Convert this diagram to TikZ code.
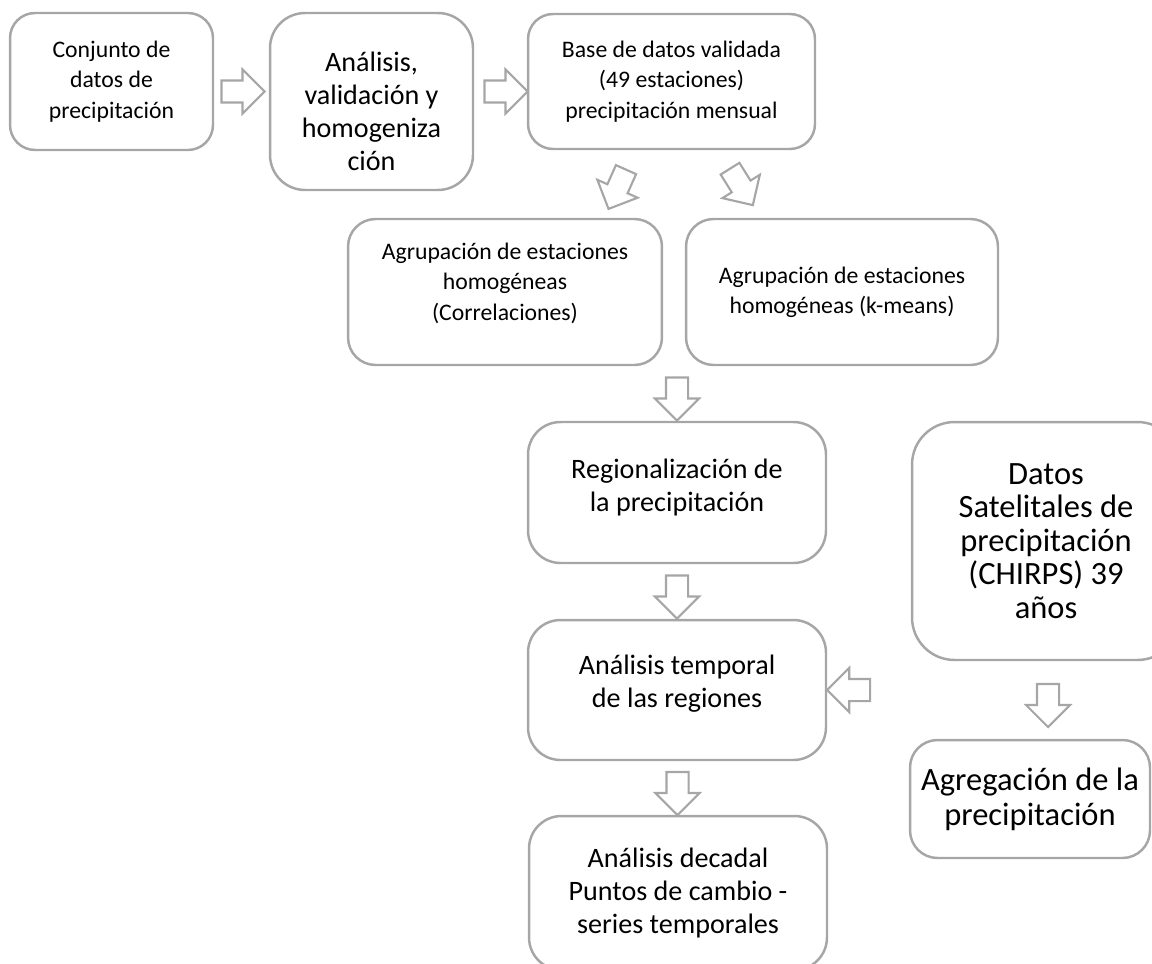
\documentclass[tikz,border=0pt]{standalone}
\usepackage{fontspec}
\setmainfont{Carlito}
\usetikzlibrary{shapes.arrows,calc,positioning}
\definecolor{linegray}{RGB}{166,166,166}
\tikzset{
  box/.style={draw=linegray, line width=1.4pt, rounded corners=#1, align=center,
    inner sep=0pt, font=\fontsize{13.5}{17.3}\selectfont},
  box/.default=0.5cm,
  bigbox/.style={box=#1, font=\fontsize{16}{18.7}\selectfont},
  bigbox/.default=0.65cm,
  hugebox/.style={box=#1, font=\fontsize{18.5}{19}\selectfont},
  hugebox/.default=0.85cm,
  blkarrow/.style={single arrow, draw=linegray, line width=1.2pt, fill=white,
    inner sep=0pt, text height=0.4cm, text depth=0pt, minimum height=0.86cm,
    single arrow head extend=0.22cm},
}
\begin{document}
\begin{tikzpicture}[x=0.02cm,y=-0.02cm]
\useasboundingbox (0,0) rectangle (1152,963);

\node[box, minimum width=4.06cm, minimum height=2.74cm] (conj) at (111.5,81.5) {Conjunto de\\datos de\\precipitación};
\node[bigbox=0.7cm, minimum width=4.06cm, minimum height=3.54cm] (anal) at (371.5,101.5) {\rule{0pt}{22pt}Análisis,\\validación y\\homogeniza\\ción};
\node[box, minimum width=5.74cm, minimum height=2.70cm] (base) at (671.5,81.5) {Base de datos validada\\(49 estaciones)\\precipitación mensual};

\node[box=0.55cm, minimum width=6.28cm, minimum height=2.92cm] (agr1) at (505,292) {Agrupación de estaciones\\homogéneas\\(Correlaciones)\rule[-12pt]{0pt}{1pt}};
\node[box=0.55cm, minimum width=6.24cm, minimum height=2.92cm] (agr2) at (842,292) {Agrupación de estaciones\\homogéneas (k-means)};

\node[bigbox, minimum width=5.96cm, minimum height=2.82cm] (reg) at (677,492.5) {Regionalización de\\la precipitación\rule[-8pt]{0pt}{1pt}};
\node[hugebox, minimum width=5.36cm, minimum height=4.76cm] (sat) at (1046,541) {Datos\\Satelitales de\\precipitación\\(CHIRPS) 39\\años};
\node[bigbox, minimum width=5.96cm, minimum height=2.80cm] (temp) at (677,690) {Análisis temporal\\de las regiones\rule[-10pt]{0pt}{1pt}};
\node[hugebox=0.55cm, font=\fontsize{18.5}{19.8}\selectfont, minimum width=4.8cm, minimum height=2.36cm] (agreg) at (1030,799) {Agregación de la\\precipitación};
\node[bigbox, minimum width=5.96cm, minimum height=3.08cm] (dec) at (678,893) {Análisis decadal\\Puntos de cambio -\\series temporales};

\node[blkarrow] (a1) at ($(conj.east)!0.5!(anal.west)+(-4,0)$) {};
\node[blkarrow] (a2) at ($(anal.east)!0.5!(base.west)$) {};
\node[blkarrow, rotate=246] (a3) at ($(base.south)+(-52,34)$) {};
\node[blkarrow, rotate=-58] (a4) at ($(base.south)+(67,32)$) {};
\node[blkarrow, rotate=-90] (a5) at ($(reg.north)!0.5!(reg.north|-agr1.south)$) {};
\node[blkarrow, rotate=-90] (a6) at ($(reg.south)!0.5!(temp.north)$) {};
\node[blkarrow, rotate=-90] (a7) at ($(temp.south)!0.5!(dec.north)$) {};
\node[blkarrow, rotate=180] (a8) at ($(temp.east)+(27,0)$) {};
\node[blkarrow, rotate=-90] (a9) at ($(sat.south)!0.5!(agreg.north)+(10,0)$) {};
\end{tikzpicture}
\end{document}
